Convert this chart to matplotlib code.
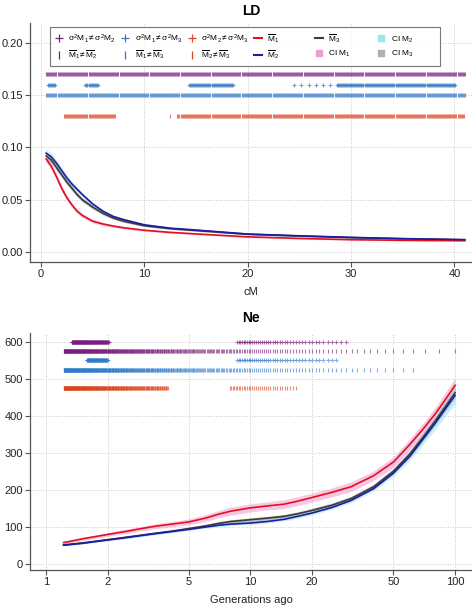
import numpy as np
import matplotlib
matplotlib.use('Agg')
import matplotlib.pyplot as plt
from matplotlib.lines import Line2D

plt.rcParams['font.family'] = ['Liberation Sans', 'DejaVu Sans']
plt.rcParams['mathtext.fontset'] = 'custom'
plt.rcParams['mathtext.rm'] = 'Liberation Sans'
plt.rcParams['mathtext.it'] = 'Liberation Sans'

# grille de distances (cM) ; generations = 50 / cM
cm_grid = np.round(np.arange(0.5, 41.05, 0.1), 1)
gen_grid = 50.0 / cm_grid

# --- LD : moyennes ---
ld_cm = [0.5, 1.0, 1.5, 2.0, 2.5, 3.0, 3.5, 4.0, 5.0, 6.0, 7.0, 8.0, 10, 12.5, 15, 20, 25, 30, 35, 41]
ld_m1 = [0.089, 0.082, 0.072, 0.061, 0.052, 0.045, 0.039, 0.035, 0.0295, 0.0268, 0.0248, 0.0232, 0.0208,
         0.0188, 0.0173, 0.0145, 0.013, 0.0118, 0.0112, 0.0108]
ld_m2 = [0.0946, 0.091, 0.085, 0.078, 0.071, 0.065, 0.060, 0.055, 0.046, 0.039, 0.034, 0.031, 0.026,
         0.0228, 0.021, 0.0172, 0.0155, 0.014, 0.0128, 0.0118]
ld_m3 = [0.092, 0.088, 0.081, 0.074, 0.067, 0.061, 0.055, 0.050, 0.043, 0.037, 0.0325, 0.0295, 0.0252,
         0.0224, 0.0206, 0.017, 0.0153, 0.0138, 0.0127, 0.0117]
ld_ci1 = [0.003, 0.003, 0.003, 0.003, 0.0025, 0.0022, 0.002, 0.002, 0.0018, 0.0015, 0.0013, 0.0012, 0.001,
          0.0009, 0.0008, 0.0007, 0.0006, 0.0006, 0.0005, 0.0005]
ld_ci2 = [0.004, 0.0035, 0.003, 0.003, 0.0028, 0.0025, 0.0022, 0.002, 0.0018, 0.0015, 0.0013, 0.0012, 0.001,
          0.0009, 0.0008, 0.0007, 0.0006, 0.0006, 0.0005, 0.0005]
ld_ci3 = [0.003, 0.003, 0.003, 0.0028, 0.0026, 0.0024, 0.0022, 0.002, 0.0018, 0.0015, 0.0013, 0.0012, 0.001,
          0.0009, 0.0008, 0.0007, 0.0006, 0.0006, 0.0005, 0.0005]

# intervalles significatifs (cM) pour LD
ld_var12 = []
ld_mean12 = [(0.5, 41.0)]
ld_var13 = [(0.7, 1.45), (4.25, 5.5), (14.3, 18.6), (24.5, 24.5), (25.2, 25.2), (25.9, 25.9), (26.6, 26.6),
            (27.3, 27.3), (28.0, 28.0), (28.6, 40.1)]
ld_mean13 = [(0.5, 41.0)]
ld_var23 = []
ld_mean23 = [(2.2, 7.2), (12.5, 12.5), (13.2, 40.9)]

# --- Ne : moyennes ---
ne_gen = [1.22, 1.5, 2, 2.5, 3, 3.5, 4, 5, 6, 7, 8, 10, 12, 14.6, 17, 20, 25, 31, 40, 50, 60, 70, 80, 90, 100]
ne_m1 = [57, 67, 79, 88, 96, 102, 106, 113, 123, 134, 142, 151, 156, 161, 169, 179, 193, 208, 238, 275,
         322, 365, 405, 445, 482]
ne_m2 = [50, 55, 64, 71, 77, 82, 86, 93, 99, 104, 107, 110, 114, 120, 128, 137, 152, 171, 203, 245,
         290, 338, 380, 420, 455]
ne_m3 = [51, 56, 65, 72, 78, 83, 87, 95, 102, 109, 114, 119, 123, 128, 135, 144, 158, 176, 208, 250,
         296, 343, 386, 426, 462]
ne_ci1 = [3, 4, 5, 6, 6, 7, 7, 8, 9, 10, 11, 11, 11, 12, 12, 12, 12, 13, 13, 14, 15, 16, 17, 19, 20]
ne_ci2 = [2, 2, 2, 3, 3, 3, 3, 3, 4, 4, 4, 4, 4, 5, 5, 5, 5, 6, 6, 8, 11, 14, 17, 20, 24]
ne_ci3 = [2, 2, 2, 3, 3, 3, 3, 4, 4, 5, 5, 5, 5, 5, 5, 6, 6, 6, 7, 8, 9, 11, 12, 14, 15]

# intervalles significatifs (generations) pour Ne
ne_var12 = [(1.34, 2.03), (2.27, 2.27), (8.6, 29.5)]
ne_mean12 = [(1.2, 100.0)]
ne_var13 = [(1.58, 2.0), (8.6, 26.6)]
ne_mean13 = [(1.2, 70.0)]
ne_var23 = []
ne_mean23 = [(1.2, 3.95), (7.9, 17.2)]

purple = '#7B1C7E'
blue = '#2F7BCB'
orange = '#D9451F'
red = '#E3101E'
navy = '#1C1CA0'
dgray = '#3C3C3C'
pink = '#F29AD2'
cyan = '#9BE6F2'
lgray = '#8A8A8A'
axcol = '#555555'


def pick(grid, intervals):
    keep = np.zeros(len(grid), dtype=bool)
    for lo, hi in intervals:
        keep |= (grid >= lo - 1e-6) & (grid <= hi + 1e-6)
    return grid[keep]


def style(ax):
    for s in ['top', 'right']:
        ax.spines[s].set_visible(False)
    for s in ['left', 'bottom']:
        ax.spines[s].set_color(axcol)
        ax.spines[s].set_linewidth(0.9)
    ax.tick_params(colors=axcol, labelcolor='#222222', labelsize=8, length=3.5, width=0.8,
                   direction='out', pad=1.5)
    ax.grid(True, linestyle=':', color='#C8C8C8', linewidth=0.7)
    ax.set_axisbelow(True)


fig = plt.figure(figsize=(4.72, 6.08), dpi=100)
ax1 = fig.add_axes([0.0636, 0.569, 0.9364, 0.393])
ax2 = fig.add_axes([0.0636, 0.0625, 0.9364, 0.390])

# ---------------- LD ----------------
style(ax1)
rows_ld = [(ld_var12, 0.18, '+', purple), (ld_mean12, 0.17, '|', purple),
           (ld_var13, 0.16, '+', blue), (ld_mean13, 0.15, '|', blue),
           (ld_var23, 0.14, '+', orange), (ld_mean23, 0.13, '|', orange)]
for intervals, yrow, mk, col in rows_ld:
    xs = pick(cm_grid, intervals)
    if len(xs):
        ax1.plot(xs, np.full(len(xs), yrow), ls='none', marker=mk, color=col, ms=3.5, mew=0.8, alpha=0.7)

x = np.array(ld_cm)
for m, ci, c in [(ld_m1, ld_ci1, pink), (ld_m3, ld_ci3, lgray), (ld_m2, ld_ci2, cyan)]:
    m = np.array(m); ci = np.array(ci)
    ax1.fill_between(x, m - ci, m + ci, color=c, alpha=0.55, lw=0)
ax1.plot(x, ld_m3, color=dgray, lw=1.2)
ax1.plot(x, ld_m1, color=red, lw=1.2)
ax1.plot(x, ld_m2, color=navy, lw=1.2)

ax1.set_xlim(-1.06, 41.7)
ax1.set_ylim(-0.0096, 0.219)
ax1.set_xticks([0, 10, 20, 30, 40])
ax1.set_yticks([0.0, 0.05, 0.10, 0.15, 0.20])
ax1.set_yticklabels(['0.00', '0.05', '0.10', '0.15', '0.20'])
ax1.set_xlabel('cM', fontsize=8, color='#222222', labelpad=6)
ax1.set_title('LD', fontsize=10, fontweight='bold', pad=6)

handles = [
    Line2D([], [], ls='none', marker='+', color=purple, ms=6, mew=0.9),
    Line2D([], [], ls='none', marker='|', color=purple, ms=6, mew=0.9),
    Line2D([], [], ls='none', marker='+', color=blue, ms=6, mew=0.9),
    Line2D([], [], ls='none', marker='|', color=blue, ms=6, mew=0.9),
    Line2D([], [], ls='none', marker='+', color=orange, ms=6, mew=0.9),
    Line2D([], [], ls='none', marker='|', color=orange, ms=6, mew=0.9),
    Line2D([], [], color=red, lw=1.5),
    Line2D([], [], color=navy, lw=1.5),
    Line2D([], [], color=dgray, lw=1.5),
    Line2D([], [], ls='none', marker='s', color=pink, ms=4.5),
    Line2D([], [], ls='none', marker='s', color=cyan, ms=4.5),
    Line2D([], [], ls='none', marker='s', color='#B0B0B0', ms=4.5),
]
# colonnes de largeur egale comme dans l'original (espaces insecables de remplissage)
nb = '\u00a0'
labels = [r'$\sigma^2\mathrm{M}_1 \neq \sigma^2\mathrm{M}_2$', r'$\overline{\mathrm{M}}_1 \neq \overline{\mathrm{M}}_2$',
          r'$\sigma^2\mathrm{M}_1 \neq \sigma^2\mathrm{M}_3$', r'$\overline{\mathrm{M}}_1 \neq \overline{\mathrm{M}}_3$',
          r'$\sigma^2\mathrm{M}_2 \neq \sigma^2\mathrm{M}_3$', r'$\overline{\mathrm{M}}_2 \neq \overline{\mathrm{M}}_3$',
          r'$\overline{\mathrm{M}}_1$' + nb * 14, r'$\overline{\mathrm{M}}_2$', r'$\overline{\mathrm{M}}_3$',
          r'$\mathrm{CI\ M}_1$' + nb * 10, r'$\mathrm{CI\ M}_2$' + nb * 10, r'$\mathrm{CI\ M}_3$']
leg = ax1.legend(handles, labels, ncol=6, loc='upper left', bbox_to_anchor=(0.036, 1.0), fontsize=6,
                 frameon=True, fancybox=False, handlelength=1.0, handletextpad=0.6, columnspacing=0.6,
                 borderpad=0.6, labelspacing=0.5)
leg.get_frame().set_edgecolor('#555555')
leg.get_frame().set_linewidth(0.8)

# ---------------- Ne ----------------
style(ax2)
ax2.set_xscale('log')
rows_ne = [(ne_var12, 600, '+', purple), (ne_mean12, 575, '|', purple),
           (ne_var13, 550, '+', blue), (ne_mean13, 525, '|', blue),
           (ne_var23, 500, '+', orange), (ne_mean23, 475, '|', orange)]
for intervals, yrow, mk, col in rows_ne:
    xs = pick(gen_grid, intervals)
    if len(xs):
        ax2.plot(xs, np.full(len(xs), yrow), ls='none', marker=mk, color=col, ms=3.5, mew=0.8, alpha=0.6)

g = np.array(ne_gen)
for m, ci, c in [(ne_m1, ne_ci1, pink), (ne_m3, ne_ci3, lgray), (ne_m2, ne_ci2, cyan)]:
    m = np.array(m); ci = np.array(ci)
    ax2.fill_between(g, m - ci, m + ci, color=c, alpha=0.55, lw=0)
ax2.plot(g, ne_m3, color=dgray, lw=1.2)
ax2.plot(g, ne_m1, color=red, lw=1.2)
ax2.plot(g, ne_m2, color=navy, lw=1.2)

ax2.set_xlim(0.836, 121)
ax2.set_ylim(-17, 624)
ax2.set_xticks([1, 2, 5, 10, 20, 50, 100])
ax2.set_xticklabels(['1', '2', '5', '10', '20', '50', '100'])
ax2.xaxis.set_minor_locator(matplotlib.ticker.NullLocator())
ax2.set_yticks([0, 100, 200, 300, 400, 500, 600])
ax2.set_xlabel('Generations ago', fontsize=8, color='#222222', labelpad=6)
ax2.set_title('Ne', fontsize=10, fontweight='bold', pad=8)

fig.savefig('out.png', dpi=100)
